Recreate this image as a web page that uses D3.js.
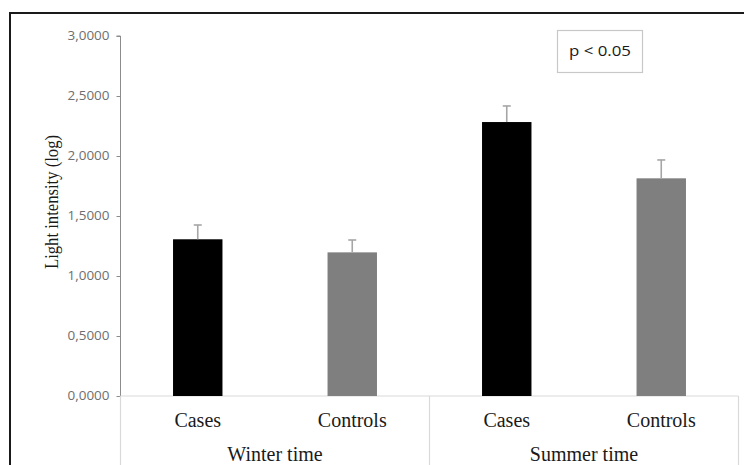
<!DOCTYPE html>
<html>
<head>
<meta charset="utf-8">
<script src="https://cdn.jsdelivr.net/npm/d3@7"></script>
<style>
  html, body { margin: 0; padding: 0; background: #fff; }
  svg { display: block; }
</style>
</head>
<body>
<svg id="chart" width="744" height="465"></svg>
<script>
// Mean light intensity (log) with upper error bars, by season and group
const groups = ["Winter time", "Summer time"];
const categories = ["Cases", "Controls", "Cases", "Controls"];
const categoryGroup = [0, 0, 1, 1];
const means = [1.306, 1.197, 2.283, 1.814];
const errors = [0.119, 0.103, 0.134, 0.153];
const barColors = ["#000000", "#7f7f7f", "#000000", "#7f7f7f"];
const yTicks = [0, 0.5, 1.0, 1.5, 2.0, 2.5, 3.0];
const yTitle = "Light intensity (log)";
const note = "p < 0.05";

(function draw() {
  const svg = d3.select("#chart");
  const W = 744, H = 465;
  const plotLeft = 120.5, plotRight = 738.5, plotTop = 36, plotBottom = 396;

  // outer frame
  svg.append("rect")
    .attr("x", 10).attr("y", 13)
    .attr("width", W + 20).attr("height", H + 20)
    .attr("fill", "none").attr("stroke", "#1a1a1a").attr("stroke-width", 2);

  const x = d3.scaleBand().domain(d3.range(categories.length))
    .range([plotLeft, plotRight]).paddingInner(0.68).paddingOuter(0.34);
  const y = d3.scaleLinear().domain([0, 3]).range([plotBottom, plotTop]);

  // y axis
  const fmt = d => d.toFixed(4).replace(".", ",");
  const yAxis = svg.append("g")
    .attr("transform", `translate(${plotLeft},0)`)
    .call(d3.axisLeft(y).tickValues(yTicks).tickFormat(fmt).tickSize(4).tickPadding(7));
  yAxis.select(".domain").attr("stroke", "#8c8c8c").attr("d", `M-4,${plotTop}H0V${plotBottom}`);
  yAxis.selectAll(".tick line").attr("stroke", "#8c8c8c");
  yAxis.selectAll(".tick text")
    .attr("fill", "#6e6e6e").attr("font-family", "'Open Sans', sans-serif")
    .attr("font-size", 12).attr("textLength", 42).attr("lengthAdjust", "spacingAndGlyphs");

  // category axis: baseline and group separators
  const groupScale = d3.scaleBand().domain(d3.range(groups.length)).range([plotLeft, plotRight]);
  svg.append("line")
    .attr("x1", plotLeft).attr("x2", plotRight).attr("y1", plotBottom).attr("y2", plotBottom)
    .attr("stroke", "#d9d9d9").attr("stroke-width", 1.2);
  const seps = [plotLeft, ...groups.map((g, i) => groupScale(i) + groupScale.bandwidth())];
  svg.selectAll("line.sep").data(seps).join("line")
    .attr("class", "sep")
    .attr("x1", d => d).attr("x2", d => d)
    .attr("y1", plotBottom).attr("y2", H)
    .attr("stroke", "#d9d9d9").attr("stroke-width", 1.2);

  // bars
  svg.selectAll("rect.bar").data(means).join("rect")
    .attr("class", "bar")
    .attr("x", (d, i) => x(i)).attr("width", x.bandwidth())
    .attr("y", d => y(d)).attr("height", d => y(0) - y(d))
    .attr("fill", (d, i) => barColors[i]);

  // error bars (upper only)
  const eb = svg.selectAll("g.err").data(means).join("g").attr("class", "err")
    .attr("stroke", "#a6a6a6").attr("stroke-width", 1.6);
  eb.append("line")
    .attr("x1", (d, i) => x(i) + x.bandwidth() / 2).attr("x2", (d, i) => x(i) + x.bandwidth() / 2)
    .attr("y1", d => y(d)).attr("y2", (d, i) => y(d + errors[i]));
  eb.append("line")
    .attr("x1", (d, i) => x(i) + x.bandwidth() / 2 - 4).attr("x2", (d, i) => x(i) + x.bandwidth() / 2 + 4)
    .attr("y1", (d, i) => y(d + errors[i])).attr("y2", (d, i) => y(d + errors[i]));

  // category labels
  svg.selectAll("text.cat").data(categories).join("text")
    .attr("class", "cat")
    .attr("x", (d, i) => x(i) + x.bandwidth() / 2).attr("y", 427)
    .attr("text-anchor", "middle")
    .attr("font-family", "'Liberation Serif', 'Times New Roman', serif")
    .attr("font-size", 20).attr("fill", "#1a1a1a")
    .text(d => d);

  // group labels
  svg.selectAll("text.grp").data(groups).join("text")
    .attr("class", "grp")
    .attr("x", (d, i) => groupScale(i) + groupScale.bandwidth() / 2).attr("y", 461)
    .attr("text-anchor", "middle")
    .attr("font-family", "'Liberation Serif', 'Times New Roman', serif")
    .attr("font-size", 20).attr("fill", "#1a1a1a")
    .text(d => d);

  // y axis title
  svg.append("text")
    .attr("transform", `translate(58,202) rotate(-90)`)
    .attr("text-anchor", "middle")
    .attr("font-family", "'Liberation Serif', 'Times New Roman', serif")
    .attr("font-size", 19).attr("fill", "#1a1a1a")
    .attr("textLength", 134).attr("lengthAdjust", "spacingAndGlyphs")
    .text(yTitle);

  // significance note
  svg.append("rect")
    .attr("x", 557.5).attr("y", 30.5).attr("width", 85).attr("height", 42)
    .attr("fill", "#fff").attr("stroke", "#c8c8c8").attr("stroke-width", 1.2);
  svg.append("text")
    .attr("x", 600).attr("y", 56)
    .attr("text-anchor", "middle")
    .attr("font-family", "'Open Sans', sans-serif")
    .attr("font-size", 14).attr("fill", "#1a1a1a")
    .attr("textLength", 62).attr("lengthAdjust", "spacingAndGlyphs")
    .text(note);
})();
</script>
</body>
</html>
